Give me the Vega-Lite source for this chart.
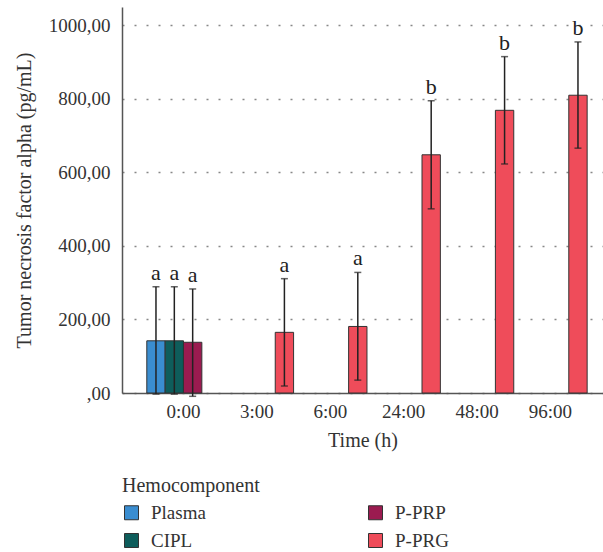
{
  "$schema": "https://vega.github.io/schema/vega-lite/v6.json",
  "width": 481,
  "height": 386,
  "autosize": "none",
  "padding": {"left": 122, "top": 7, "right": 0, "bottom": 159},
  "background": "white",
  "config": {
    "font": "Liberation Serif",
    "view": {"stroke": null},
    "axis": {"labelFont": "Liberation Serif", "titleFont": "Liberation Serif", "labelFontSize": 19, "titleFontSize": 20, "titleFontWeight": "normal", "labelColor": "#333", "titleColor": "#333", "domainColor": "#555", "domainWidth": 1.5, "ticks": false},
    "legend": {"labelFont": "Liberation Serif", "titleFont": "Liberation Serif", "labelFontSize": 19, "titleFontSize": 20, "titleFontWeight": "normal", "labelColor": "#333", "titleColor": "#333"}
  },
  "data": {
    "values": [
      {"time": "0:00", "group": "Plasma", "mean": 142, "lo": -3, "hi": 289, "letter": "a"},
      {"time": "0:00", "group": "CIPL", "mean": 142, "lo": -3, "hi": 289, "letter": "a"},
      {"time": "0:00", "group": "P-PRP", "mean": 138, "lo": -9, "hi": 283, "letter": "a"},
      {"time": "3:00", "group": "P-PRG", "mean": 165, "lo": 19, "hi": 311, "letter": "a"},
      {"time": "6:00", "group": "P-PRG", "mean": 181, "lo": 35, "hi": 328, "letter": "a"},
      {"time": "24:00", "group": "P-PRG", "mean": 648, "lo": 501, "hi": 795, "letter": "b"},
      {"time": "48:00", "group": "P-PRG", "mean": 769, "lo": 623, "hi": 915, "letter": "b"},
      {"time": "96:00", "group": "P-PRG", "mean": 810, "lo": 666, "hi": 955, "letter": "b"}
    ]
  },
  "encoding": {
    "x": {
      "field": "time", "type": "nominal",
      "sort": ["0:00", "3:00", "6:00", "24:00", "48:00", "96:00"],
      "scale": {"domain": ["0:00", "3:00", "6:00", "24:00", "48:00", "96:00"], "paddingInner": 0, "paddingOuter": 0.277, "align": 0.61},
      "axis": {"title": "Time (h)", "labelAngle": 0, "labelPadding": 9, "titlePadding": 9, "grid": false}
    },
    "xOffset": {
      "field": "group", "type": "nominal",
      "scale": {"domain": ["Plasma", "CIPL", "P-PRP", "P-PRG"], "paddingInner": 0, "paddingOuter": 0}
    }
  },
  "layer": [
    {
      "mark": {"type": "bar", "stroke": "#333", "strokeWidth": 1},
      "encoding": {
        "y": {
          "field": "mean", "type": "quantitative",
          "scale": {"domain": [0, 1050], "nice": false},
          "axis": {
            "title": "Tumor necrosis factor alpha (pg/mL)",
            "values": [0, 200, 400, 600, 800, 1000],
            "labelExpr": "datum.value == 0 ? ',00' : replace(format(datum.value, '.2f'), '.', ',')",
            "labelPadding": 12, "titlePadding": 14,
            "grid": true, "gridColor": "#888", "gridDash": [2, 10], "gridWidth": 1.5
          }
        },
        "color": {
          "field": "group", "type": "nominal",
          "scale": {"domain": ["Plasma", "CIPL", "P-PRP", "P-PRG"], "range": ["#3a8dd0", "#0e5d5b", "#9b1b50", "#ef4c5a"]},
          "legend": {
            "title": "Hemocomponent", "orient": "none", "legendX": 0, "legendY": 469,
            "columns": 2, "columnPadding": 160, "rowPadding": 8,
            "symbolType": "square", "symbolSize": 196, "symbolStrokeColor": "#333", "symbolStrokeWidth": 1, "symbolOpacity": 1,
            "labelOffset": 10, "titlePadding": 7
          }
        }
      }
    },
    {
      "mark": {"type": "rule", "color": "#222", "strokeWidth": 1.5},
      "encoding": {
        "y": {"field": "lo", "type": "quantitative"},
        "y2": {"field": "hi"}
      }
    },
    {
      "mark": {"type": "tick", "color": "#222", "size": 7, "thickness": 1.5},
      "encoding": {"y": {"field": "hi", "type": "quantitative"}}
    },
    {
      "mark": {"type": "tick", "color": "#222", "size": 7, "thickness": 1.5},
      "encoding": {"y": {"field": "lo", "type": "quantitative"}}
    },
    {
      "mark": {"type": "text", "baseline": "alphabetic", "dy": -7, "fontSize": 22, "color": "#222", "font": "Liberation Serif"},
      "encoding": {
        "y": {"field": "hi", "type": "quantitative"},
        "text": {"field": "letter"}
      }
    }
  ]
}
